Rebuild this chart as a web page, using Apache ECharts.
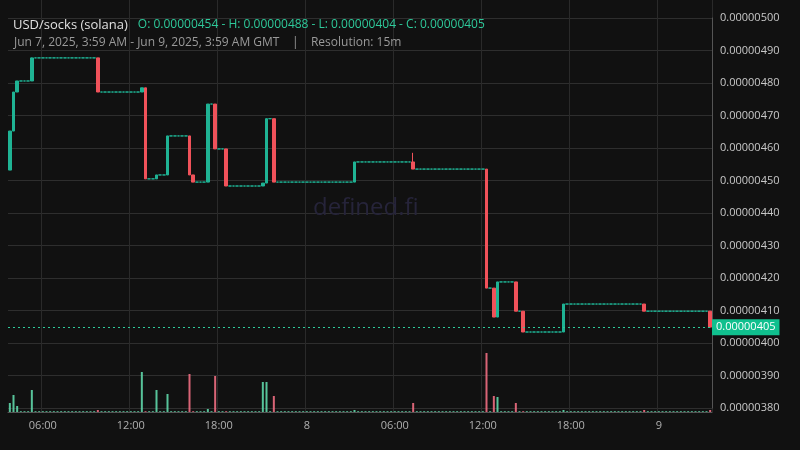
<!DOCTYPE html>
<html><head><meta charset="utf-8">
<script src="https://cdn.jsdelivr.net/npm/echarts@6/dist/echarts.min.js"></script>
<style>html,body{margin:0;background:#111111}#c{width:800px;height:450px}</style>
</head><body><div id="c"></div>
<script>
// price unit: 1e-8 USD; 192 fifteen-minute candles starting Jun 7 03:45
const candleCount = 192;
const startPrice = 453.2;
// traded candles: [index, open, high, low, close]; all other candles are untraded (flat at previous close)
const tradedCandles = [
  [0,453.2,465.2,453.2,465.2],[1,465.2,477.2,465.2,477.2],[2,477.2,480.6,477.2,480.6],
  [6,480.6,487.8,480.6,487.7],[24,487.7,487.7,477.2,477.2],[36,477.2,478.5,477.2,478.5],
  [37,478.5,478.5,450.5,450.5],[40,450.5,451.7,450.5,451.7],[43,451.7,463.7,451.7,463.7],
  [49,463.7,463.7,451.7,451.7],[50,451.7,451.7,449.5,449.5],[54,449.5,473.5,449.5,473.5],
  [56,473.5,473.5,459.7,459.7],[59,459.7,459.7,448.3,448.3],[69,448.3,449.2,448.3,449.2],
  [70,449.2,469.1,449.2,469.0],[72,469.0,469.0,449.5,449.5],[94,449.5,455.7,449.5,455.7],
  [110,455.7,458.5,453.5,453.5],[130,453.5,453.5,416.9,416.9],[132,416.9,416.9,408.0,408.0],
  [133,408.0,418.8,408.0,418.8],[138,418.8,418.8,409.8,409.8],[140,409.8,409.8,403.4,403.4],
  [151,403.4,412.0,403.4,412.0],[173,412.0,412.0,409.8,409.8],[191,409.8,409.8,404.9,404.9]
];
// volumes (relative units) for traded candles; untraded candles get a tiny baseline
const volumeEvents = [[0,9],[1,17],[2,6],[6,22],[24,2],[36,40],[40,22],[43,18],[49,38],[54,3],
  [56,36],[69,30],[70,30],[72,16],[94,2],[110,9],[130,59],[132,16],[133,15],[138,9],[151,2],[173,2],[191,2]];
const baseVolume = 0.8;
const xTicks = {9:'06:00',33:'12:00',57:'18:00',81:'8',105:'06:00',129:'12:00',153:'18:00',177:'9'};
const lastClose = 404.9;

const cats=[], ohlc=[], vols=[];
let prev=startPrice;
const tmap={}; tradedCandles.forEach(t=>tmap[t[0]]=t);
const vmap={}; volumeEvents.forEach(v=>vmap[v[0]]=v[1]);
for(let i=0;i<candleCount;i++){
  cats.push(String(i));
  let o,h,l,c;
  if(tmap[i]){[,o,h,l,c]=tmap[i];} else {o=h=l=c=prev;}
  ohlc.push([o,c,l,h]); prev=c;
  const up=c>=o;
  vols.push({value:vmap[i]!==undefined?vmap[i]:baseVolume,itemStyle:{color:up?'rgba(95,215,170,0.9)':'rgba(240,110,130,0.9)'}});
}
const UP='#1fb394', DN='#f0525a';
const fmt=v=>(v*1e-8).toFixed(8);
const chart=echarts.init(document.getElementById('c'));
chart.setOption({
  backgroundColor:'#111111',animation:false,
  title:[
    {text:'{a|USD/socks (solana)}  {b|O: 0.00000454 - H: 0.00000488 - L: 0.00000404 - C: 0.00000405}',left:8,top:11,
     textStyle:{fontWeight:'normal',rich:{a:{color:'#e0e0e0',fontSize:13,fontFamily:'Open Sans',fontWeight:'normal'},b:{color:'#2ec99a',fontSize:12,fontFamily:'Open Sans',fontWeight:'normal'}}}},
    {text:'Jun 7, 2025, 3:59 AM - Jun 9, 2025, 3:59 AM GMT    |    Resolution: 15m',left:9,top:32,
     textStyle:{color:'#9a9a9a',fontSize:12,fontWeight:'normal',fontFamily:'Open Sans'}},
    {text:'defined.fi',left:308,top:191,textStyle:{color:'#26243a',fontSize:24,fontWeight:'normal',fontFamily:'Open Sans'}}
  ],
  grid:[
    {left:8,right:88,top:0,bottom:38},
    {left:8,right:88,top:18,bottom:42},
    {left:8,right:88,top:300,bottom:38}
  ],
  xAxis:[
    {type:'category',data:cats,gridIndex:0,boundaryGap:true,
     axisLine:{lineStyle:{color:'#555'}},axisTick:{show:false},
     axisLabel:{interval:(i)=>xTicks[i]!==undefined,formatter:(v)=>xTicks[v]||'',
       color:'#b0b0b0',fontSize:11,fontFamily:'Open Sans',margin:8},
     splitLine:{show:true,interval:(i)=>xTicks[i]!==undefined,lineStyle:{color:'#2a2a2a'}}},
    {type:'category',data:cats,gridIndex:1,show:false},
    {type:'category',data:cats,gridIndex:2,show:false}
  ],
  yAxis:[
    {type:'value',gridIndex:0,min:378.8,max:505.5,show:false,splitLine:{show:false}},
    {type:'value',gridIndex:1,min:380,max:500,interval:10,position:'right',
     axisLine:{show:true,lineStyle:{color:'#555'}},axisTick:{show:false},
     axisLabel:{formatter:fmt,color:'#c8c8c8',fontSize:11,fontFamily:'Open Sans',margin:8},
     splitLine:{lineStyle:{color:'#2e2e2e'}}},
    {type:'value',gridIndex:2,min:0,max:112,show:false}
  ],
  series:[
    {type:'bar',xAxisIndex:2,yAxisIndex:2,data:vols,barWidth:2,silent:true},
    {type:'candlestick',xAxisIndex:0,yAxisIndex:0,data:ohlc,barWidth:3,
     itemStyle:{color:UP,color0:DN,borderColor:UP,borderColor0:DN,borderWidth:1},
     markLine:{symbol:'none',silent:true,data:[{yAxis:lastClose}],
       lineStyle:{color:'#2ec99a',type:[2,3],width:1},
       label:{position:'end',formatter:()=>fmt(lastClose),color:'#fff',backgroundColor:'#10c08e',
         padding:[3,4,2,4],fontSize:11,fontFamily:'Open Sans',distance:0}}}
  ]
});
</script></body></html>
